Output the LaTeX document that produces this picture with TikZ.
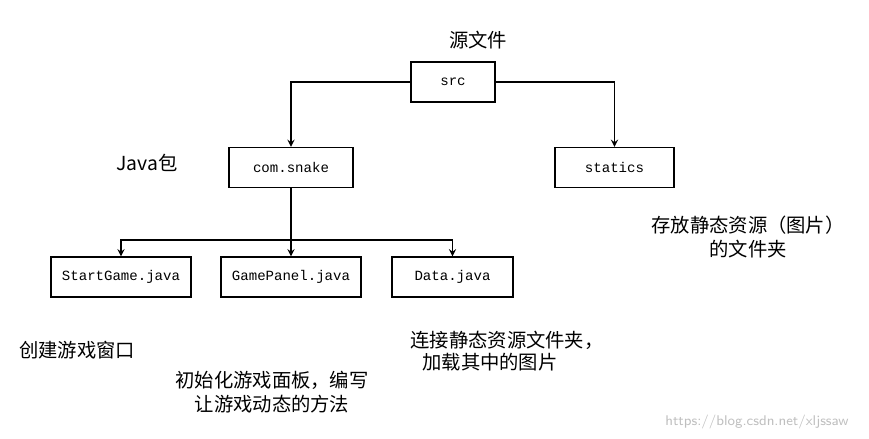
\documentclass[tikz,border=0pt]{standalone}
\usepackage{fontspec}
\setmainfont{Liberation Serif}
\newfontfamily\cjk{Noto Sans CJK SC}
\newfontfamily\boxfont{Liberation Mono}
\usetikzlibrary{positioning}
\tikzset{
    box/.style={draw, thick, minimum height=0.8cm, font=\boxfont\fontsize{8}{10}\selectfont},
    note/.style={font=\cjk\fontsize{11}{13}\selectfont, inner sep=0pt},
    arr/.style={thick, -stealth}
}
\begin{document}
\begin{tikzpicture}[x=0.02cm, y=-0.02cm]
    \useasboundingbox (0,0) rectangle (869,439);
    % boxes
    \node[box, minimum width=1.68cm] (src) at (453,82) {src};
    \node[box, minimum width=2.48cm] (snake) at (291,167.5) {com.snake};
    \node[box, minimum width=2.38cm] (statics) at (614.5,167.5) {statics};
    \node[box, minimum width=2.8cm] (start) at (121,277) {StartGame.java};
    \node[box, minimum width=2.8cm] (panel) at (291,277) {GamePanel.java};
    \node[box, minimum width=2.42cm] (data) at (452.5,277) {Data.java};
    % connectors
    \draw[arr] (src.west) -| (snake.north);
    \draw[arr] (src.east) -| (statics.north);
    \coordinate (split) at (291,240);
    \draw[thick] (snake.south) -- (split);
    \draw[arr] (split) -| (start.north);
    \draw[arr] (split) -- (panel.north);
    \draw[arr] (split) -| (data.north);
    % notes
    \node[note] (n1) at (478,40) {源文件};
    \node[note] (n2) at (147,163) {Java包};
    \node[note] (n3) at (748,225) {存放静态资源（图片）};
    \node[note] (n4) at (748,249) {的文件夹};
    \node[note] (n5) at (77,350) {创建游戏窗口};
    \node[note] (n6) at (272,380) {初始化游戏面板，编写};
    \node[note] (n7) at (272,404) {让游戏动态的方法};
    \node[note] (n8) at (507,340) {连接静态资源文件夹，};
    \node[note] (n9) at (490,362) {加载其中的图片};
    \node[font=\fontsize{8}{10}\selectfont\sffamily, text=black!25] (mark) at (757,422) {https://blog.csdn.net/xljssaw};
\end{tikzpicture}
\end{document}
